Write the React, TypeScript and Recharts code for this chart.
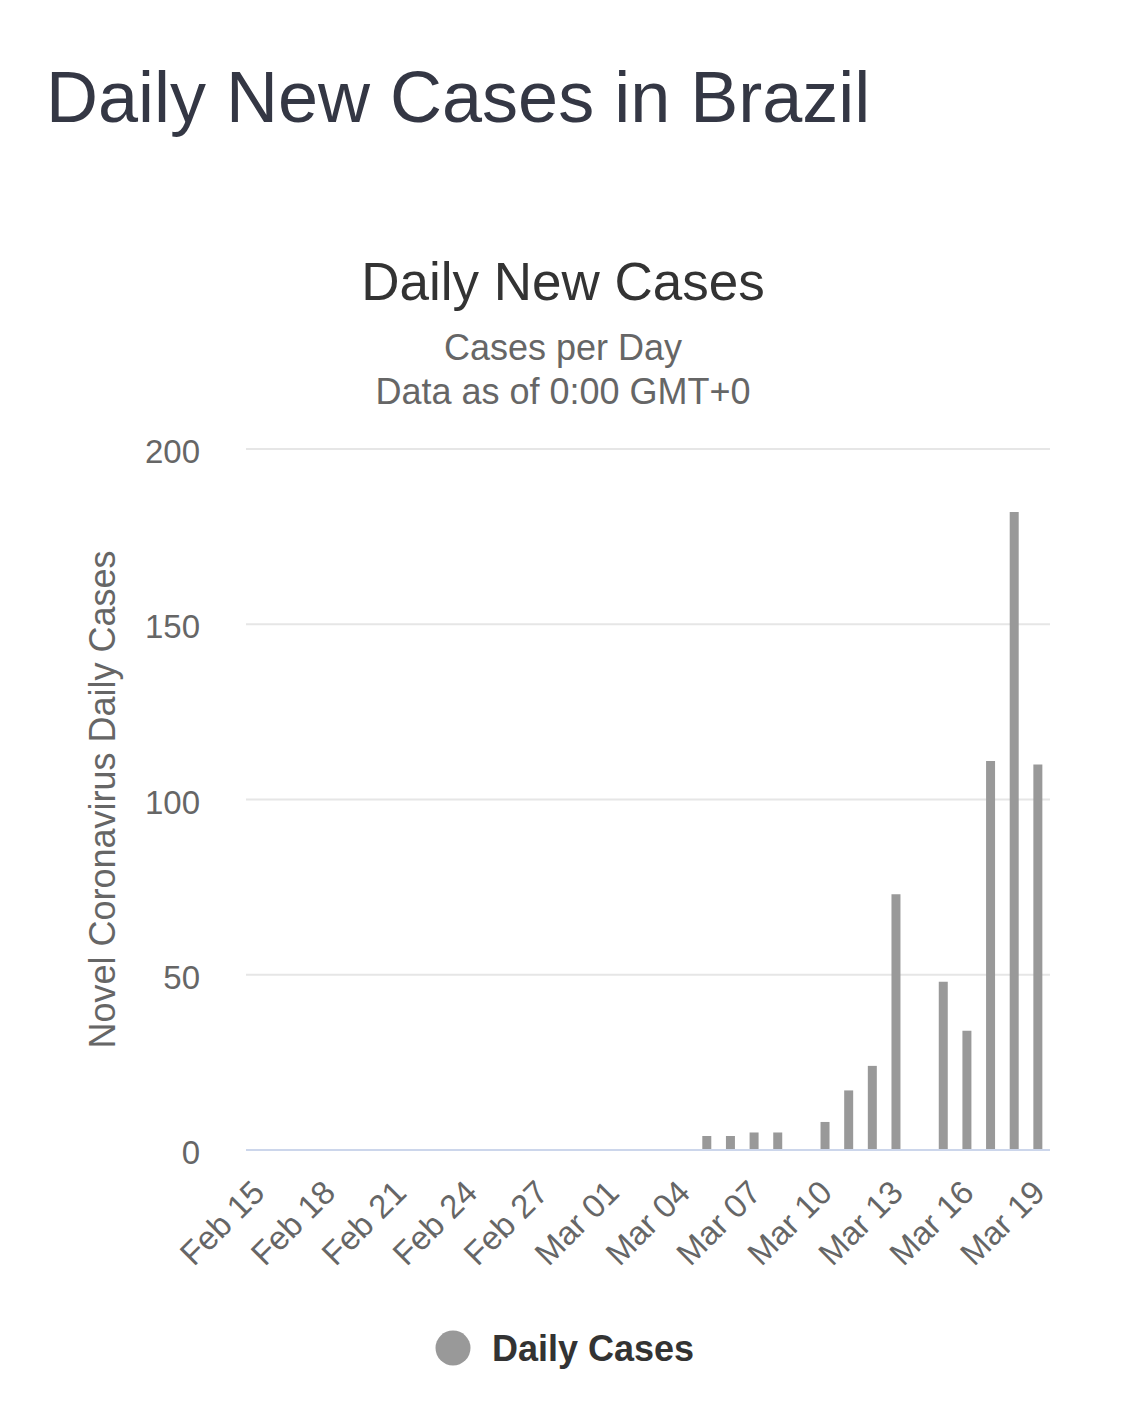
import { BarChart, Bar, XAxis, YAxis, CartesianGrid } from "recharts"

const DATES = [
  "Feb 15", "Feb 16", "Feb 17", "Feb 18", "Feb 19", "Feb 20", "Feb 21", "Feb 22",
  "Feb 23", "Feb 24", "Feb 25", "Feb 26", "Feb 27", "Feb 28", "Feb 29",
  "Mar 01", "Mar 02", "Mar 03", "Mar 04", "Mar 05", "Mar 06", "Mar 07", "Mar 08",
  "Mar 09", "Mar 10", "Mar 11", "Mar 12", "Mar 13", "Mar 14", "Mar 15", "Mar 16",
  "Mar 17", "Mar 18", "Mar 19",
]

const DAILY_CASES = [
  0, 0, 0, 0, 0, 0, 0, 0,
  0, 0, 0, 0, 0, 0, 0,
  0, 0, 0, 0, 4, 4, 5, 5,
  0, 8, 17, 24, 73, 0, 48, 34,
  111, 182, 110,
]

const Y_TICKS = [0, 50, 100, 150, 200]

const FONT = '"Liberation Sans", Arial, Helvetica, sans-serif'

function DateTick(props: any) {
  const { x, y, payload } = props
  return (
    <g transform={`translate(${x - 8},${y + 20})`}>
      <text
        x={0}
        y={0}
        dy="0.71em"
        textAnchor="end"
        transform="rotate(-45)"
        fill="#666666"
        fontSize={33}
        fontFamily={FONT}
      >
        {payload.value}
      </text>
    </g>
  )
}

function ValueTick(props: any) {
  const { x, y, payload } = props
  return (
    <text x={x} y={y} dy={14} textAnchor="end" fill="#666666" fontSize={33} fontFamily={FONT}>
      {payload.value}
    </text>
  )
}

export default function App() {
  const rows = DATES.map((d, i) => ({ date: d, cases: DAILY_CASES[i] }))

  return (
    <div
      style={{
        position: "absolute",
        left: 0,
        top: 0,
        width: 1125,
        height: 1424,
        background: "#ffffff",
        fontFamily: FONT,
      }}
    >
      <div style={{ position: "absolute", left: 0, top: 0 }}>
        <BarChart
          width={1125}
          height={1424}
          data={rows}
          margin={{ top: 449, right: 75, bottom: 144, left: 0 }}
        >
          <CartesianGrid
            vertical={false}
            stroke="#e6e6e6"
            strokeWidth={2}
          />
          <XAxis
            dataKey="date"
            interval={2}
            height={130}
            tick={<DateTick />}
            tickLine={false}
            axisLine={{ stroke: "#ccd6eb", strokeWidth: 2 }}
          />
          <YAxis
            width={246}
            domain={[0, 200]}
            ticks={Y_TICKS}
            tickSize={0}
            tickMargin={46}
            tickLine={false}
            axisLine={false}
            tick={<ValueTick />}
            label={{
              value: "Novel Coronavirus Daily Cases",
              angle: -90,
              position: "insideLeft",
              offset: 102,
              style: { textAnchor: "middle", fill: "#666666", fontSize: 36, fontFamily: FONT },
            }}
          />
          <Bar dataKey="cases" fill="#999999" barSize={9} isAnimationActive={false} />
        </BarChart>
      </div>
      <svg
        width={1125}
        height={1424}
        style={{ position: "absolute", left: 0, top: 0, pointerEvents: "none" }}
      >
        <text x={46} y={122} fontSize={72} fill="#343744" fontFamily={FONT}>
          Daily New Cases in Brazil
        </text>
        <text x={563} y={300} textAnchor="middle" fontSize={53} fill="#333333" fontFamily={FONT}>
          Daily New Cases
        </text>
        <text x={563} y={360} textAnchor="middle" fontSize={36} fill="#666666" fontFamily={FONT}>
          Cases per Day
        </text>
        <text x={563} y={404} textAnchor="middle" fontSize={36} fill="#666666" fontFamily={FONT}>
          Data as of 0:00 GMT+0
        </text>
        <circle cx={453} cy={1348} r={17.5} fill="#999999" />
        <text x={492} y={1361} fontSize={36} fontWeight="bold" fill="#333333" fontFamily={FONT}>
          Daily Cases
        </text>
      </svg>
    </div>
  )
}
